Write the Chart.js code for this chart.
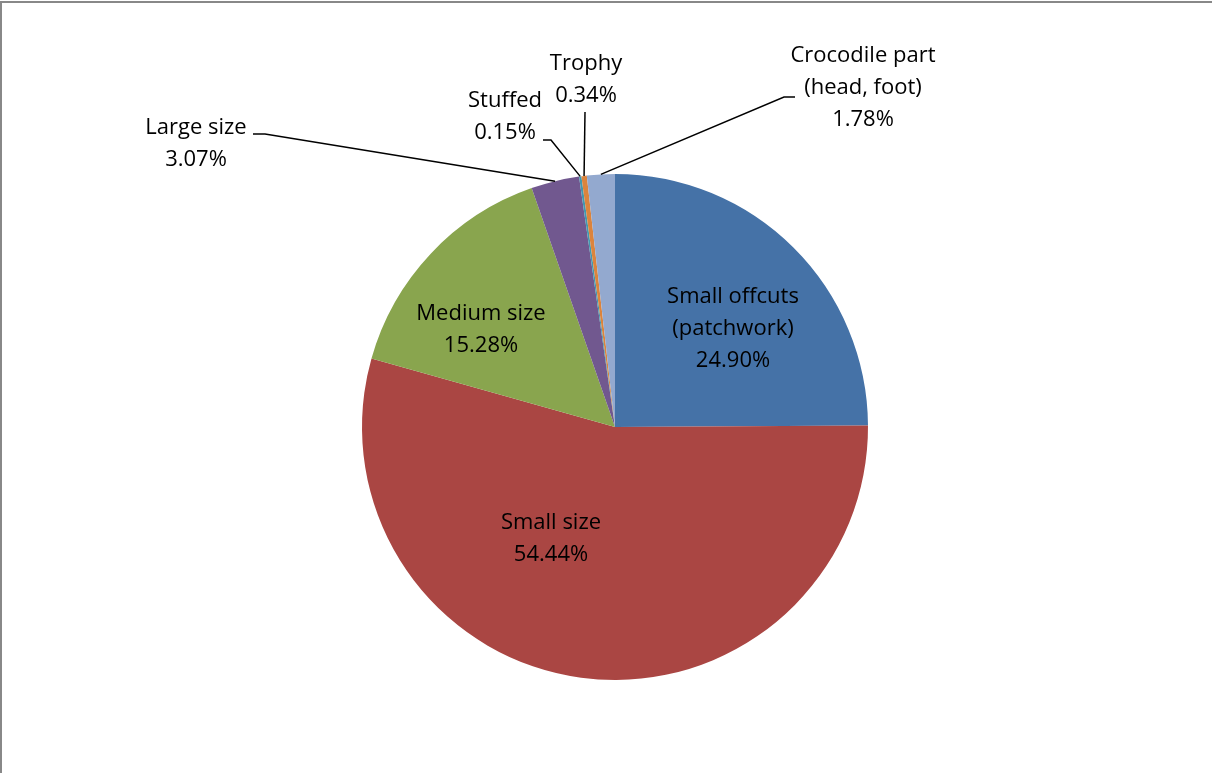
<!DOCTYPE html>
<html>
<head>
<meta charset="utf-8">
<script src="https://cdn.jsdelivr.net/npm/chart.js@4.4.1/dist/chart.umd.min.js"></script>
<style>
  html, body { margin: 0; padding: 0; background: #fff; overflow: hidden; }
  #wrap { position: relative; width: 1212px; height: 773px; }
  #frame { position: absolute; left: 0; top: 1px; width: 1240px; height: 800px; border: 2px solid #888; box-sizing: border-box; }
  canvas { position: absolute; left: 0; top: 0; }
</style>
</head>
<body>
<div id="wrap">
  <div id="frame"></div>
  <canvas id="pie" width="1212" height="773"></canvas>
</div>
<script>
// ── Data ──
const categories = ['Small offcuts (patchwork)', 'Small size', 'Medium size', 'Large size', 'Stuffed', 'Trophy', 'Crocodile part (head, foot)'];
const shares     = [24.90, 54.44, 15.28, 3.07, 0.15, 0.34, 1.78];
const colors     = ['#4572A7', '#AA4643', '#89A54E', '#71588F', '#4198AF', '#DB843D', '#93A9CF'];
const labelLines = [
  ['Small offcuts', '(patchwork)'],
  ['Small size'],
  ['Medium size'],
  ['Large size'],
  ['Stuffed'],
  ['Trophy'],
  ['Crocodile part', '(head, foot)']
];

// ── Label layout (offsets from pie centre) ──
// inside: text block centre; outside: text block centre + leader elbow
const labelLayout = [
  { dx: 118, dy: -98 },
  { dx: -64, dy: 112 },
  { dx: -134, dy: -97 },
  { dx: -419, dy: -283, from: [-362, -293], elbow: [-350, -293] },
  { dx: -110, dy: -310, from: [-72, -287], elbow: [-64, -287] },
  { dx: -29, dy: -347, from: [-30, -315], elbow: null },
  { dx: 248, dy: -339, from: [180, -330], elbow: [169, -330] }
];

const FONT = '22px "Open Sans", Lato, sans-serif';
const LINE_H = 32;

const pieLabels = {
  id: 'pieLabels',
  afterDatasetsDraw(chart) {
    const ctx = chart.ctx;
    const meta = chart.getDatasetMeta(0);
    ctx.save();
    ctx.font = FONT;
    ctx.fillStyle = '#000';
    ctx.textAlign = 'center';
    ctx.textBaseline = 'middle';
    meta.data.forEach((arc, i) => {
      const cx = arc.x, cy = arc.y;
      const L = labelLayout[i];
      const lines = [...labelLines[i], shares[i].toFixed(2) + '%'];
      const tx = cx + L.dx, ty = cy + L.dy;
      const top = ty - (lines.length - 1) * LINE_H / 2;

      // leader line from slice edge to the label
      if (L.from) {
        const mid = (arc.startAngle + arc.endAngle) / 2;
        const ex = cx + Math.cos(mid) * arc.outerRadius;
        const ey = cy + Math.sin(mid) * arc.outerRadius;
        ctx.beginPath();
        ctx.strokeStyle = '#000';
        ctx.lineWidth = 1.5;
        ctx.moveTo(ex, ey);
        if (L.elbow) ctx.lineTo(cx + L.elbow[0], cy + L.elbow[1]);
        ctx.lineTo(cx + L.from[0], cy + L.from[1]);
        ctx.stroke();
      }

      lines.forEach((t, k) => ctx.fillText(t, tx, top + k * LINE_H));
    });
    ctx.restore();
  }
};

new Chart(document.getElementById('pie').getContext('2d'), {
  type: 'pie',
  data: {
    labels: categories,
    datasets: [{ data: shares, backgroundColor: colors, borderWidth: 0 }]
  },
  options: {
    responsive: false,
    animation: false,
    layout: { padding: { left: 362, right: 344, top: 174, bottom: 93 } },
    plugins: { legend: { display: false }, tooltip: { enabled: false } }
  },
  plugins: [pieLabels]
});
</script>
</body>
</html>
